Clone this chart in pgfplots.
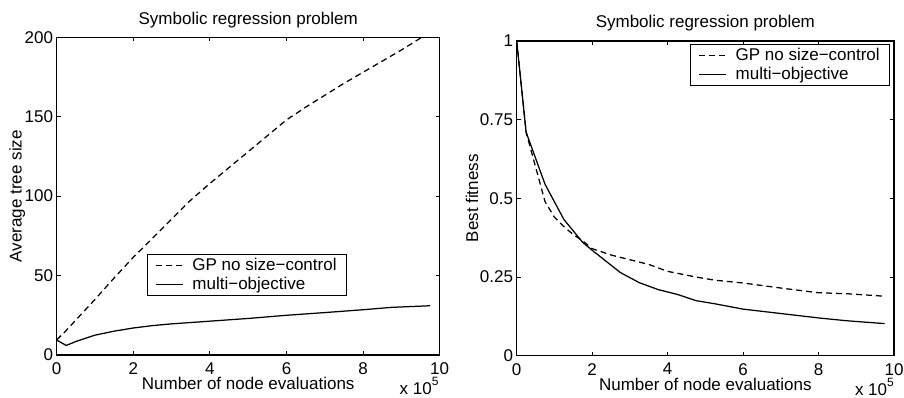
\documentclass[border=0pt]{standalone}
\usepackage{fontspec}
\setmainfont{Liberation Sans}
\usepackage{pgfplots}
\pgfplotsset{compat=1.18}
\newcommand{\chartfont}{\fontsize{17}{20}\selectfont}
\pgfplotsset{
  myaxis/.style={
    scale only axis,
    clip mode=individual,
    xmin=0, xmax=10,
    xtick={0,2,4,6,8,10},
    tick align=inside,
    major tick length=4pt,
    axis line style={line width=1.3pt},
    every tick/.style={line width=1pt, black},
    /pgf/number format/assume math mode=true,
    tick label style={font=\chartfont},
    every axis title shift=0pt,
    title style={font=\chartfont, at={(0.5,1)}, anchor=base, yshift=13pt},
    xticklabel style={yshift=-4pt},
    yticklabel style={inner xsep=3.5pt},
    every axis x label/.style={font=\chartfont, at={(rel axis cs:0.5,0)}, anchor=base, yshift=-35pt},
    legend cell align=left,
    legend image code/.code={\draw[##1] (0pt,0pt) -- (27pt,0pt);},
    legend style={font=\chartfont, draw=black, line width=1pt, fill=white,
      inner xsep=8pt, inner ysep=2pt, row sep=1pt, column sep=7pt,
      nodes={inner sep=2pt, text depth=0.15em}},
  },
  gpline/.style={black, line width=1.25pt, dash pattern=on 6pt off 4pt},
  moline/.style={black, line width=1.25pt, solid},
}
\begin{document}
\begin{tikzpicture}
\useasboundingbox (-56.7pt,-43pt) rectangle (847.3pt,355pt);
\begin{axis}[myaxis,
  at={(0pt,0pt)}, anchor=south west,
  width=383pt, height=317.7pt,
  ymin=0, ymax=200, ytick={0,50,100,150,200},
  title={Symbolic regression problem},
  xlabel={Number of node evaluations},
  ylabel={Average tree size},
  every axis y label/.style={font=\chartfont, at={(rel axis cs:0,0.5)}, xshift=-35pt, rotate=90, anchor=base},
  legend style={at={(0.235,0.318)}, anchor=north west},
]
\addplot[gpline] coordinates {
 (0,9.5) (0.25,15.5) (0.5,22) (0.75,28.5) (1,35) (1.5,48.5) (2,61.5) (2.5,73.5)
 (3,85.5) (3.5,97.5) (4,108) (4.5,118) (5,128) (5.5,138) (6,148) (6.5,156)
 (7,163.5) (7.5,171) (8,178) (8.5,185) (9,192) (9.5,199.5) (9.75,203)
};
\addlegendentry{GP no size−control}
\addplot[moline] coordinates {
 (0,9.4) (0.25,6) (0.5,8.5) (0.75,10.5) (1,12.5) (1.5,15) (2,17) (2.5,18.5)
 (3,19.6) (4,21.3) (5,23) (6,25) (7,26.7) (8,28.5) (8.75,30) (9.75,31)
};
\addlegendentry{multi−objective}
\node[font=\chartfont, anchor=base east, inner sep=0pt] at ([yshift=-40pt,xshift=-1pt]rel axis cs:1,0)
  {x 10\raisebox{0.55em}{\fontsize{12}{12}\selectfont 5}};
\end{axis}
\begin{axis}[myaxis,
  at={(460pt,-0.7pt)}, anchor=south west,
  width=377.3pt, height=314.7pt,
  ymin=0, ymax=1, ytick={0,0.25,0.5,0.75,1}, yticklabels={0,0.25,0.5,0.75,1},
  title={Symbolic regression problem},
  xlabel={Number of node evaluations},
  ylabel={Best fitness},
  every axis y label/.style={font=\chartfont, at={(rel axis cs:0,0.5)}, xshift=-38.5pt, rotate=90, anchor=base},
  legend style={at={(0.99,0.99)}, anchor=north east},
]
\addplot[gpline] coordinates {
 (0,1.0) (0.25,0.71) (0.5,0.60) (0.75,0.49) (1,0.44) (1.25,0.41) (1.5,0.385)
 (1.75,0.365) (2,0.34) (2.5,0.32) (3,0.305) (3.5,0.29) (4,0.268) (4.75,0.25)
 (5.25,0.24) (6,0.231) (7,0.215) (8,0.2) (8.75,0.197) (9.75,0.189)
};
\addlegendentry{GP no size−control}
\addplot[moline] coordinates {
 (0,1.0) (0.25,0.71) (0.75,0.545) (1.25,0.433) (1.75,0.36) (2,0.335) (2.75,0.264)
 (3.25,0.232) (3.75,0.21) (4.25,0.195) (4.75,0.175) (5.25,0.165) (6,0.148)
 (7,0.134) (8,0.12) (8.75,0.111) (9.75,0.102)
};
\addlegendentry{multi−objective}
\node[font=\chartfont, anchor=base east, inner sep=0pt] at ([yshift=-40pt]rel axis cs:1,0)
  {x 10\raisebox{0.55em}{\fontsize{12}{12}\selectfont 5}};
\end{axis}
\end{tikzpicture}
\end{document}
